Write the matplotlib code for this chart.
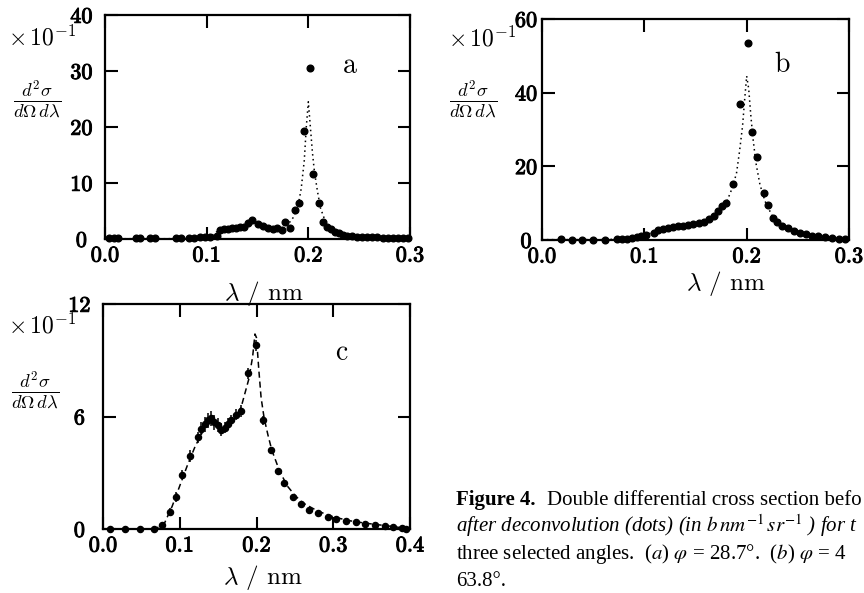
import matplotlib
matplotlib.use("Agg")
import matplotlib.pyplot as plt
import matplotlib.patheffects as pe
import numpy as np

# ---------------- data ----------------
# panel a : deconvolved (dots) and before deconvolution (dotted line)
a_x = [0.004, 0.009, 0.013, 0.030, 0.034, 0.044, 0.049, 0.070, 0.075, 0.083, 0.088, 0.093, 0.098, 0.103,
       0.110, 0.113, 0.117, 0.121, 0.125, 0.129, 0.133, 0.137, 0.141, 0.145, 0.150, 0.155, 0.160, 0.165,
       0.169, 0.174, 0.177, 0.182, 0.187, 0.191, 0.196, 0.2015, 0.205, 0.210, 0.214, 0.218, 0.222, 0.226,
       0.230, 0.234, 0.238, 0.243, 0.248, 0.253, 0.258, 0.263, 0.268, 0.273, 0.278, 0.283, 0.288, 0.293, 0.298]
a_y = [0.1, 0.1, 0.1, 0.1, 0.1, 0.1, 0.1, 0.1, 0.1, 0.2, 0.2, 0.3, 0.3, 0.4,
       0.6, 1.6, 1.7, 1.8, 1.9, 2.0, 2.1, 2.2, 2.8, 3.4, 2.7, 2.3, 2.0, 1.75,
       1.9, 1.6, 3.1, 1.9, 5.2, 6.5, 19.2, 30.6, 11.6, 6.5, 3.0, 2.2, 1.7, 1.3,
       1.0, 0.8, 0.6, 0.5, 0.4, 0.35, 0.3, 0.3, 0.3, 0.25, 0.25, 0.2, 0.2, 0.2, 0.2]
a_line_x = [0.0, 0.02, 0.04, 0.06, 0.08, 0.09, 0.10, 0.105, 0.11, 0.12, 0.13, 0.14, 0.145, 0.15, 0.16, 0.17,
            0.175, 0.18, 0.185, 0.19, 0.193, 0.196, 0.198, 0.2, 0.202, 0.204, 0.206, 0.209, 0.212, 0.216,
            0.22, 0.225, 0.23, 0.24, 0.25, 0.26, 0.28, 0.3]
a_line_y = [0.05, 0.05, 0.05, 0.05, 0.1, 0.2, 0.4, 0.6, 1.3, 1.8, 2.0, 2.5, 3.0, 2.6, 2.0, 1.8,
            2.0, 2.6, 3.8, 6.0, 9.0, 14.0, 20.0, 24.5, 20.0, 15.5, 12.0, 8.5, 5.5, 3.5,
            2.5, 1.8, 1.3, 0.8, 0.5, 0.4, 0.3, 0.2]

# panel b
b_x = [0.019, 0.029, 0.039, 0.050, 0.062, 0.073, 0.078, 0.083, 0.088, 0.093, 0.097, 0.102, 0.109, 0.113,
       0.118, 0.123, 0.128, 0.133, 0.138, 0.143, 0.148, 0.153, 0.158, 0.163, 0.168, 0.172, 0.176, 0.180,
       0.1865, 0.1935, 0.2016, 0.205, 0.2104, 0.2165, 0.221, 0.226, 0.230, 0.2345, 0.240, 0.246, 0.252,
       0.258, 0.264, 0.270, 0.277, 0.283, 0.290, 0.296]
b_y = [0.2, 0.1, 0.1, 0.1, 0.1, 0.2, 0.3, 0.4, 0.6, 0.8, 1.0, 1.4, 1.8, 2.7,
       3.0, 3.3, 3.5, 3.7, 3.9, 4.1, 4.3, 4.6, 5.0, 5.7, 6.5, 8.0, 9.2, 10.0,
       15.1, 37.0, 53.5, 29.2, 22.6, 12.7, 9.5, 6.0, 4.8, 3.8, 3.2, 2.5, 1.9,
       1.5, 1.2, 1.0, 0.8, 0.6, 0.4, 0.3]
b_line_x = [0.0, 0.02, 0.04, 0.06, 0.07, 0.08, 0.09, 0.1, 0.11, 0.12, 0.13, 0.14, 0.15, 0.16, 0.17, 0.175,
            0.18, 0.185, 0.19, 0.193, 0.196, 0.198, 0.2, 0.202, 0.204, 0.206, 0.209, 0.213, 0.218, 0.225,
            0.23, 0.24, 0.25, 0.26, 0.27, 0.28, 0.29, 0.3]
b_line_y = [0.1, 0.1, 0.1, 0.1, 0.2, 0.4, 0.8, 1.3, 2.2, 3.0, 3.5, 3.9, 4.4, 5.2, 6.8, 8.2,
            10.0, 13.5, 18.0, 24.0, 31.0, 38.0, 44.5, 41.0, 34.0, 28.0, 21.0, 15.0, 10.5, 6.5,
            5.0, 3.3, 2.0, 1.5, 1.1, 0.8, 0.5, 0.3]

# panel c (with error bars)
c_x = [0.009, 0.029, 0.0485, 0.0665, 0.0765, 0.087, 0.0956, 0.1034, 0.1138, 0.1238, 0.128, 0.1324,
       0.1367, 0.141, 0.145, 0.1497, 0.154, 0.1584, 0.163, 0.167, 0.173, 0.180, 0.1887, 0.1987,
       0.208, 0.2187, 0.2274, 0.236, 0.247, 0.258, 0.269, 0.280, 0.293, 0.304, 0.317, 0.330,
       0.341, 0.354, 0.367, 0.378, 0.389, 0.395]
c_y = [0.0, 0.0, 0.0, 0.0, 0.2, 0.9, 1.7, 2.9, 3.9, 4.9, 5.35, 5.6,
       5.8, 5.9, 5.7, 5.55, 5.3, 5.4, 5.6, 5.8, 6.1, 6.3, 8.3, 9.8,
       5.8, 4.2, 3.1, 2.45, 1.7, 1.35, 1.0, 0.85, 0.65, 0.52, 0.43, 0.37,
       0.28, 0.22, 0.17, 0.1, 0.08, 0.0]
c_err = [0.0, 0.0, 0.0, 0.0, 0.15, 0.2, 0.25, 0.25, 0.3, 0.3, 0.35, 0.4,
         0.4, 0.4, 0.4, 0.35, 0.35, 0.3, 0.3, 0.3, 0.3, 0.3, 0.3, 0.3,
         0.25, 0.2, 0.15, 0.15, 0.12, 0.1, 0.1, 0.1, 0.08, 0.08, 0.08, 0.08,
         0.08, 0.08, 0.08, 0.08, 0.08, 0.05]
c_line_x = [0.0, 0.06, 0.07, 0.08, 0.09, 0.1, 0.11, 0.12, 0.13, 0.14, 0.15, 0.16, 0.17, 0.18, 0.19, 0.195,
            0.198, 0.2, 0.203, 0.206, 0.21, 0.215, 0.22, 0.23, 0.24, 0.25, 0.26, 0.28, 0.3, 0.32, 0.34,
            0.36, 0.38, 0.4]
c_line_y = [0.0, 0.0, 0.05, 0.3, 1.2, 2.3, 3.4, 4.4, 5.2, 5.7, 5.6, 5.5, 5.8, 6.5, 8.0, 9.2,
            10.4, 10.2, 8.5, 7.0, 5.9, 5.0, 4.2, 3.1, 2.3, 1.8, 1.4, 0.95, 0.65, 0.45, 0.32,
            0.22, 0.12, 0.0]

a_xticks = [0.0, 0.1, 0.2, 0.3]
a_yticks = [0, 10, 20, 30, 40]
b_xticks = [0.0, 0.1, 0.2, 0.3]
b_yticks = [0, 20, 40, 60]
c_xticks = [0.0, 0.1, 0.2, 0.3, 0.4]
c_yticks = [0, 6, 12]

xlabel = r"$\lambda$ / nm"
ylabel = r"$\frac{d^2\sigma}{d\Omega\,d\lambda}$"
scale_txt = r"$\times\,10^{-1}$"

# ---------------- style ----------------
plt.rcParams['font.family'] = ['cmr10', 'DejaVu Serif']
plt.rcParams['mathtext.fontset'] = 'cm'
plt.rcParams['axes.formatter.use_mathtext'] = True
plt.rcParams['axes.unicode_minus'] = False

fig = plt.figure(figsize=(8.64, 5.93), dpi=100)
W, H = 864.0, 593.0

def axes_px(l, t, r, b):
    ax = fig.add_axes([l / W, 1 - b / H, (r - l) / W, (b - t) / H])
    ax.patch.set_alpha(0)
    return ax

ax_a = axes_px(105, 15, 410, 239)
ax_b = axes_px(542, 19, 849, 240)
ax_c = axes_px(103, 304, 410, 529)

stroke = [pe.withStroke(linewidth=0.7, foreground='black')]

def style(ax, xt, yt, xlim, ylim, ypad, lab, lab_xy, xl_coords, yl_coords, sc_coords):
    ax.set_xlim(*xlim)
    ax.set_ylim(*ylim)
    ax.set_xticks(xt)
    ax.set_yticks(yt)
    ax.set_xticklabels([f"{v:.1f}" for v in xt])
    ax.set_yticklabels([f"{v:d}" for v in yt])
    ax.tick_params(direction='in', length=9, width=1.5, top=True, right=True,
                   labelsize=16, colors='black')
    ax.tick_params(axis='x', pad=5)
    ax.tick_params(axis='y', pad=ypad)
    for t in ax.get_yticklabels():
        t.set_horizontalalignment('center')
        t.set_path_effects(stroke)
    for t in ax.get_xticklabels():
        t.set_path_effects(stroke)
    for s in ax.spines.values():
        s.set_linewidth(1.6)
    ax.set_xlabel(xlabel, fontsize=18)
    ax.xaxis.set_label_coords(*xl_coords)
    ax.set_ylabel(ylabel, fontsize=19, rotation=0, va='center', ha='center')
    ax.yaxis.set_label_coords(*yl_coords)
    ax.text(sc_coords[0], sc_coords[1], scale_txt, transform=ax.transAxes, fontsize=17,
            ha='left', va='baseline')
    ax.text(lab_xy[0], lab_xy[1], lab[0], fontsize=20, ha='center', va='center',
            fontfamily=['cmr10', 'DejaVu Serif'])

# panel a
ax_a.plot(a_line_x, a_line_y, linestyle=(0, (1, 2.2)), color='black', lw=1.1, clip_on=False)
ax_a.plot(a_x, a_y, 'o', ms=4.8, color='black', clip_on=False)
style(ax_a, a_xticks, a_yticks, (0, 0.3), (0, 40), 17, 'a', (0.241, 31),
      (0.52, -0.179), (-0.223, 0.625), (-0.318, 0.866))

# panel b
ax_b.plot(b_line_x, b_line_y, linestyle=(0, (1, 2.2)), color='black', lw=1.1, clip_on=False)
ax_b.plot(b_x, b_y, 'o', ms=4.8, color='black', clip_on=False)
style(ax_b, b_xticks, b_yticks, (0, 0.3), (0, 60), 11.5, 'b', (0.2345, 47.5),
      (0.6, -0.131), (-0.225, 0.638), (-0.306, 0.875))

# panel c
ax_c.plot(c_line_x, c_line_y, linestyle=(0, (4, 2.5)), color='black', lw=1.1, clip_on=False)
ax_c.errorbar(c_x, c_y, yerr=c_err, fmt='o', ms=4.4, color='black', ecolor='black',
              elinewidth=1.1, capsize=0, clip_on=False)
style(ax_c, c_xticks, c_yticks, (0, 0.4), (0, 12), 17, 'c', (0.311, 9.4),
      (0.52, -0.151), (-0.2215, 0.618), (-0.309, 0.871))

# ---------------- caption ----------------
cap_kw = dict(fontsize=15, family='Liberation Serif', ha='left', va='baseline',
              math_fontfamily='stix')
x0 = 456 / W
fig.text(x0, 1 - 505 / H, "Figure 4.", fontweight='bold', **cap_kw)
fig.text(547 / W, 1 - 505 / H, "Double differential cross section befo", **cap_kw)
fig.text(x0, 1 - 532 / H, r"after deconvolution (dots) (in $\mathit{b}\,\mathit{nm}^{-1}\,\mathit{sr}^{-1}$ ) for t",
         style='italic', **cap_kw)
fig.text(x0, 1 - 559 / H, r"three selected angles.  ($\mathit{a}$) $\varphi$ = 28.7°.  ($\mathit{b}$) $\varphi$ = 4",
         **cap_kw)
fig.text(x0, 1 - 586 / H, "63.8°.", **cap_kw)

fig.savefig("out.png", dpi=100)
